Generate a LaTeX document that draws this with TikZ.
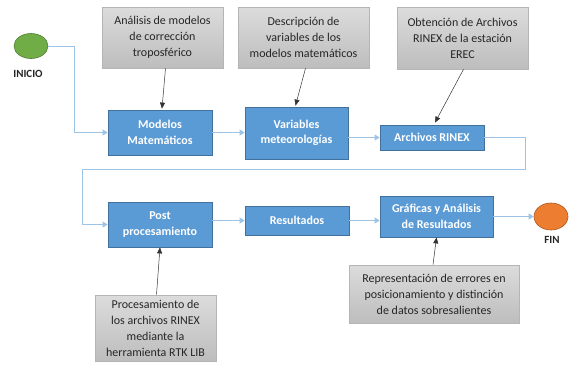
\documentclass[tikz,border=0pt]{standalone}
\usepackage{fontspec}
\setmainfont{Carlito}
\usetikzlibrary{arrows.meta,shapes.geometric,calc}
\definecolor{bfill}{HTML}{5B9BD5}
\definecolor{bdraw}{HTML}{41719C}
\definecolor{conn}{HTML}{9DC3E6}
\definecolor{gtop}{HTML}{DCDCDC}
\definecolor{gbot}{HTML}{BDBDBD}
\definecolor{gdraw}{HTML}{B5B5B5}
\definecolor{gtext}{HTML}{262626}
\definecolor{gfill}{HTML}{70AD47}
\definecolor{gline}{HTML}{507E32}
\definecolor{ofill}{HTML}{ED7D31}
\definecolor{oline}{HTML}{AE5A21}
\tikzset{
  bluebox/.style={draw=bdraw, line width=0.8pt, fill=bfill, text=white, font=\fontsize{12}{15.5}\selectfont\bfseries, align=center, inner sep=2pt},
  graybox/.style={draw=gdraw, line width=0.6pt, top color=gtop, bottom color=gbot, text=gtext, font=\fontsize{12}{16}\selectfont, align=center, inner sep=2pt},
  flow/.style={draw=conn, line width=1pt, -{Triangle[width=6pt,length=5pt]}},
  note/.style={draw=black!80, line width=0.5pt, -{Triangle[width=5pt,length=6pt]}},
  term/.style={ellipse, line width=0.6pt, inner sep=0pt},
  termlabel/.style={font=\fontsize{11}{13}\selectfont\bfseries, text=black!85}
}
\begin{document}
\begin{tikzpicture}[x=1pt,y=-1pt]
\useasboundingbox (0,0) rectangle (569,365);
% terminals
\node[term, fill=gfill, draw=gline, minimum width=34pt, minimum height=25pt] (ini) at (31,46) {};
\node[termlabel] (inil) at (28,74) {INICIO};
\node[term, fill=ofill, draw=oline, minimum width=34pt, minimum height=27pt] (fin) at (551,216.5) {};
\node[termlabel] (finl) at (552,240) {FIN};
% blue boxes
\node[bluebox, minimum width=104pt, minimum height=45pt] (mod) at (160,132.5) {Modelos\\Matemáticos};
\node[bluebox, minimum width=103pt, minimum height=52pt] (var) at (296.5,133) {Variables\\meteorologías};
\node[bluebox, minimum width=104pt, minimum height=25pt] (rin) at (432,137.5) {Archivos RINEX};
\node[bluebox, minimum width=104pt, minimum height=45pt] (post) at (160,224.5) {Post\\procesamiento};
\node[bluebox, minimum width=104pt, minimum height=29pt] (res) at (297,220.5) {Resultados};
\node[bluebox, minimum width=113pt, minimum height=41pt] (graf) at (436.5,216.5) {Gráficas y Análisis\\de Resultados};
% gray boxes
\node[graybox, minimum width=121pt, minimum height=61pt] (g1) at (162.5,37.5) {Análisis de modelos\\de corrección\\troposférico};
\node[graybox, minimum width=131pt, minimum height=61pt] (g2) at (303.5,37.5) {Descripción de\\variables de los\\modelos matemáticos};
\node[graybox, minimum width=131pt, minimum height=62pt] (g3) at (462.5,38) {Obtención de Archivos\\RINEX de la estación\\EREC};
\node[graybox, minimum width=121pt, minimum height=66pt] (g4) at (155.5,328) {Procesamiento de\\los archivos RINEX\\mediante la\\herramienta RTK LIB};
\node[graybox, minimum width=170pt, minimum height=58pt] (g5) at (434,294) {Representación de errores en\\posicionamiento y distinción\\de datos sobresalientes};
% flow connectors
\coordinate (c1) at (525,169);
\coordinate (c2) at (82,169);
\draw[flow] (ini.east) -- ++(26,0) |- (mod.west);
\draw[flow] (mod.east) -- (mod.east -| var.west);
\draw[flow] (rin.west -| var.east) -- (rin.west);
\draw[flow] (rin.east) -| (c1) -- (c2) |- (post.west);
\draw[flow] (post.east |- res.west) -- (res.west);
\draw[flow] (res.east) -- (res.east -| graf.west);
\draw[flow] (graf.east) -- (fin.west);
% note connectors
\draw[note] ($(g1.south)+(3,0)$) -- ($(mod.north)+(2,-1)$);
\draw[note] ($(g2.south)+(2,0)$) -- ($(var.north)+(-1,-1)$);
\draw[note] ($(g3.south)+(1,0)$) -- ($(rin.north)+(3,-2)$);
\draw[note] ($(g4.north)+(1,0)$) -- (post.south);
\draw[note] ($(g5.north)+(-1,0)$) -- (graf.south);
\end{tikzpicture}
\end{document}
